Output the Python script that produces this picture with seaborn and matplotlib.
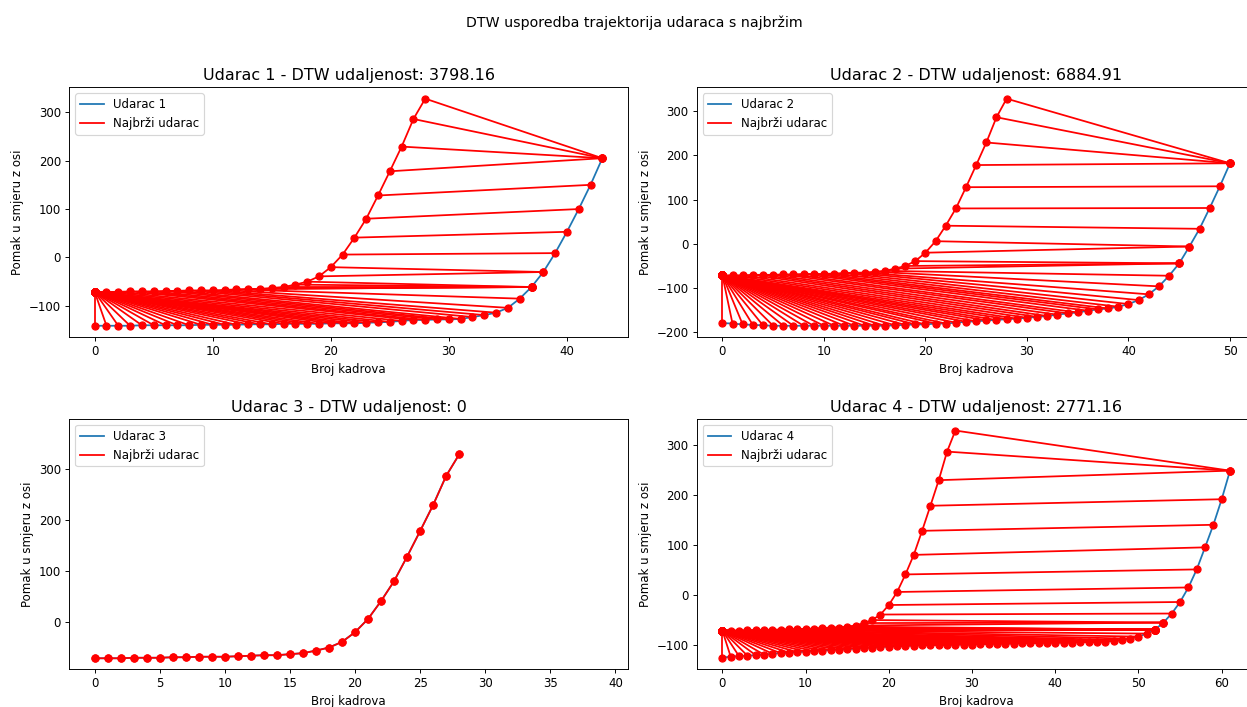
import numpy as np
import matplotlib
matplotlib.use("Agg")
import matplotlib.pyplot as plt
import seaborn as sns

# ---------------- data ----------------
fastest = [-71, -71, -71, -70, -70, -70, -69, -69, -68, -68, -68, -67, -66, -65, -65,
           -63, -61, -56, -50, -39, -20, 6, 41, 80, 128, 178, 229, 286, 328]

udarac1 = [-141, -141, -141, -141, -140, -140, -140, -140, -140, -139, -139, -139,
           -139, -138, -138, -138, -137, -137, -137, -137, -136, -136, -136, -135,
           -134, -133, -131, -129, -129, -128, -128, -127, -123, -119, -114, -104,
           -85, -61, -30, 9, 53, 100, 150, 205]

udarac2 = [-179, -180, -182, -183, -184, -185, -185, -185, -185, -185, -185, -185,
           -185, -185, -185, -185, -185, -184, -183, -182, -182, -180, -180, -178,
           -176, -175, -173, -172, -170, -169, -167, -165, -163, -160, -157, -155,
           -151, -148, -146, -142, -136, -127, -114, -96, -72, -44, -6, 34, 81, 130, 182]

udarac3 = list(fastest)

udarac4 = [-125, -123, -122, -121, -120, -119, -117, -116, -115, -114, -113, -112,
           -111, -110, -109, -108, -107, -106, -105, -104, -103, -102, -102, -101,
           -100, -100, -100, -100, -99, -99, -99, -98, -98, -97, -97, -97, -96, -96,
           -96, -95, -95, -95, -95, -94, -94, -94, -93, -92, -90, -87, -83, -77, -69,
           -55, -37, -14, 15, 51, 95, 140, 191, 248]

series_names = ["Udarac 1", "Udarac 2", "Udarac 3", "Udarac 4"]
series_values = [udarac1, udarac2, udarac3, udarac4]
dtw_labels = ["3798.16", "6884.91", "0", "2771.16"]


def dtw_path(a, b):
    a = np.asarray(a, float)
    b = np.asarray(b, float)
    n, m = len(a), len(b)
    D = np.full((n + 1, m + 1), np.inf)
    D[0, 0] = 0.0
    for i in range(1, n + 1):
        for j in range(1, m + 1):
            c = abs(a[i - 1] - b[j - 1])
            D[i, j] = c + min(D[i - 1, j], D[i, j - 1], D[i - 1, j - 1])
    i, j = n, m
    path = [(i - 1, j - 1)]
    while i > 1 or j > 1:
        opts = []
        if i > 1 and j > 1:
            opts.append((D[i - 1, j - 1], i - 1, j - 1))
        if i > 1:
            opts.append((D[i - 1, j], i - 1, j))
        if j > 1:
            opts.append((D[i, j - 1], i, j - 1))
        _, i, j = min(opts, key=lambda t: t[0])
        path.append((i - 1, j - 1))
    return path[::-1]


# ---------------- figure ----------------
DPI = 85
W, H = 1247, 707
fig = plt.figure(figsize=(W / DPI, H / DPI), dpi=DPI)
gs = fig.add_gridspec(2, 2, left=69.3 / W, right=1255.4 / W,
                      top=1 - 87.3 / H, bottom=1 - 669 / H,
                      wspace=0.124, hspace=0.3286)

for k, (name, q, dl) in enumerate(zip(series_names, series_values, dtw_labels)):
    ax = fig.add_subplot(gs[k // 2, k % 2])
    xq = np.arange(len(q))
    xf = np.arange(len(fastest))
    sns.lineplot(x=xq, y=q, ax=ax, color="#1f77b4", label=name, linewidth=1.5)
    sns.lineplot(x=xf, y=fastest, ax=ax, color="red", label="Najbrži udarac", linewidth=1.5)
    for (i, j) in dtw_path(fastest, q):
        ax.plot([i, j], [fastest[i], q[j]], "ro-", linewidth=1.5, markersize=6)
    ax.set_title(f"{name} - DTW udaljenost: {dl}", fontsize=13.5)
    ax.set_xlabel("Broj kadrova")
    ax.set_ylabel("Pomak u smjeru z osi")
    ax.legend(loc="upper left")
    if k == 2:
        ax.set_xlim(-1.95, 40.95)
        ax.set_ylim(-92, 397)

fig.suptitle("DTW usporedba trajektorija udaraca s najbržim", fontsize=12,
             x=634 / W, y=1 - 15 / H, va="top")
fig.savefig("out.png", dpi=DPI)
